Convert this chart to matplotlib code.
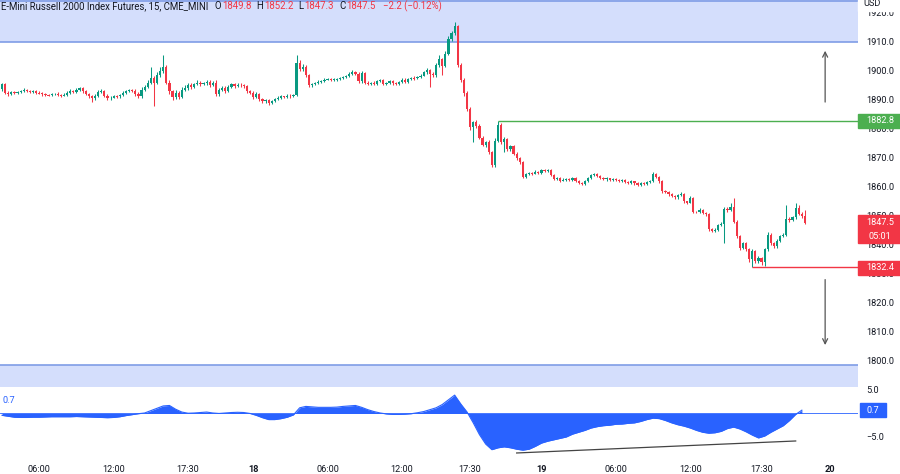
import numpy as np
import matplotlib
matplotlib.use("Agg")
import matplotlib.pyplot as plt
from matplotlib.patches import Rectangle
from matplotlib.transforms import blended_transform_factory

plt.rcParams['font.family'] = ['Roboto', 'DejaVu Sans']

# 15-minute bars, E-Mini Russell 2000 futures
first_open = 1893.8
closes = [
    1895.5, 1892.5, 1892.0, 1892.6, 1892.3, 1892.8, 1893.2, 1893.5, 1893.0, 1892.8,
    1893.1, 1892.5, 1892.3, 1892.0, 1891.8, 1891.6, 1891.9, 1892.2, 1891.8, 1891.5,
    1891.8, 1892.5, 1893.0, 1892.8, 1893.5, 1894.0, 1893.0, 1892.0, 1891.2, 1890.5,
    1891.5, 1892.8, 1893.2, 1891.5, 1890.5, 1890.8, 1891.4, 1891.2, 1891.6, 1892.5,
    1893.0, 1893.4, 1893.2, 1892.0, 1891.2, 1893.5, 1894.5, 1896.0, 1897.5, 1896.0,
    1898.5, 1900.0, 1901.5, 1896.0, 1893.0, 1891.0, 1892.5, 1891.0, 1893.5, 1894.0,
    1895.0, 1894.5, 1895.5, 1896.0, 1895.5, 1895.8, 1896.2, 1895.2, 1896.0, 1892.0,
    1893.5, 1894.2, 1893.0, 1894.5, 1895.5, 1894.8, 1895.3, 1895.0, 1894.7, 1893.0,
    1892.5, 1891.0, 1892.0, 1890.2, 1889.5, 1889.8, 1889.0, 1889.6, 1890.3, 1890.8,
    1891.2, 1891.0, 1891.5, 1891.3, 1891.8, 1902.8, 1900.5, 1901.5, 1898.5, 1895.0,
    1895.6, 1896.0, 1896.3, 1896.6, 1897.0, 1897.2, 1896.8, 1897.0, 1897.3, 1897.5,
    1897.8, 1898.3, 1899.0, 1899.6, 1899.0, 1896.5, 1899.2, 1896.0, 1895.5, 1896.0,
    1895.6, 1896.5, 1896.8, 1895.6, 1895.8, 1896.4, 1895.8, 1895.5, 1896.2, 1897.0,
    1896.3, 1897.3, 1897.6, 1897.4, 1898.0, 1898.4, 1899.5, 1900.2, 1899.0, 1898.5,
    1902.0, 1904.0, 1901.8, 1906.0, 1911.0, 1913.0, 1915.5, 1902.0, 1897.0, 1892.5,
    1887.0, 1880.5, 1882.5, 1881.0, 1877.0, 1874.5, 1875.5, 1872.0, 1867.5, 1876.0,
    1881.5, 1875.5, 1876.5, 1873.0, 1874.0, 1871.5, 1870.0, 1868.5, 1863.5, 1864.5,
    1864.8, 1864.6, 1865.2, 1864.8, 1865.8, 1865.5, 1865.8, 1864.0, 1862.8, 1863.2,
    1862.2, 1862.5, 1862.8, 1862.4, 1863.0, 1862.2, 1861.3, 1861.0, 1862.0, 1863.0,
    1864.0, 1864.5, 1863.6, 1863.2, 1862.6, 1862.9, 1862.5, 1862.8, 1862.3, 1862.0,
    1862.4, 1861.7, 1861.4, 1861.9, 1861.2, 1860.6, 1861.3, 1861.0, 1861.6, 1862.0,
    1864.5, 1863.5, 1862.0, 1858.5, 1858.3, 1857.5, 1856.8, 1856.4, 1857.2, 1857.6,
    1855.0, 1854.6, 1856.2, 1851.5, 1851.3, 1852.2, 1851.0, 1850.6, 1845.5, 1844.8,
    1845.3, 1846.8, 1847.2, 1852.5, 1852.0, 1853.2, 1848.0, 1843.0, 1839.0, 1840.5,
    1838.5, 1835.0, 1838.0, 1834.5, 1835.5, 1834.0, 1838.5, 1843.5, 1840.5, 1839.5,
    1841.5, 1843.0, 1843.5, 1849.0, 1848.5, 1849.5, 1852.8, 1850.8, 1849.8, 1847.5,
]
upper_wick = [
    0.3, 0.5, 0.4, 0.3, 0.5, 0.4, 0.3, 0.6, 0.4, 0.3,
    0.4, 0.3, 0.5, 0.4, 0.3, 0.4, 0.5, 0.3, 0.4, 0.3,
    0.5, 0.4, 0.6, 0.3, 0.7, 0.5, 0.4, 0.3, 0.5, 0.4,
    0.6, 0.5, 0.4, 0.3, 0.4, 0.5, 0.3, 0.4, 0.6, 0.5,
    0.4, 0.3, 0.5, 0.4, 0.6, 0.8, 0.5, 0.9, 3.9, 0.6,
    1.2, 1.5, 4.0, 0.5, 0.8, 0.5, 1.0, 0.6, 0.8, 1.0,
    0.7, 0.8, 0.5, 0.9, 0.6, 0.5, 0.7, 0.6, 0.5, 0.8,
    0.6, 0.5, 0.7, 0.6, 0.5, 0.4, 0.6, 0.5, 0.4, 0.6,
    0.5, 0.4, 0.6, 0.5, 0.3, 0.4, 0.5, 0.3, 0.4, 0.5,
    0.4, 0.3, 0.5, 0.4, 0.3, 2.7, 1.0, 0.8, 0.5, 0.6,
    0.4, 0.3, 0.4, 0.3, 0.5, 0.4, 0.3, 0.4, 0.3, 0.4,
    0.3, 0.4, 0.5, 0.6, 0.4, 0.5, 0.7, 0.5, 0.4, 0.3,
    0.4, 0.5, 0.3, 0.4, 0.3, 0.5, 0.4, 0.3, 0.4, 0.5,
    0.4, 0.3, 0.4, 0.5, 0.3, 0.6, 0.5, 0.7, 0.5, 0.6,
    0.8, 1.5, 0.6, 0.9, 1.2, 0.8, 1.5, 0.4, 0.8, 0.6,
    0.7, 0.5, 0.2, 0.5, 0.6, 0.7, 0.5, 0.6, 0.5, 0.8,
    1.3, 0.6, 0.7, 0.5, 0.4, 0.6, 0.5, 0.4, 0.5, 0.3,
    0.4, 0.3, 0.5, 0.4, 0.3, 0.4, 0.3, 0.5, 0.4, 0.3,
    0.3, 0.4, 0.3, 0.4, 0.3, 0.4, 0.3, 0.4, 0.3, 0.4,
    0.5, 0.4, 0.3, 0.4, 0.3, 0.4, 0.3, 0.4, 0.3, 0.4,
    0.3, 0.4, 0.3, 0.4, 0.3, 0.4, 0.3, 0.4, 0.3, 0.4,
    0.6, 0.4, 0.3, 0.5, 0.4, 0.3, 0.4, 0.3, 0.4, 0.5,
    0.4, 0.3, 0.5, 0.4, 0.3, 0.4, 0.3, 0.5, 0.4, 0.3,
    0.4, 0.5, 0.6, 0.4, 0.5, 1.3, 3.0, 0.5, 0.4, 0.6,
    0.5, 0.4, 0.5, 0.4, 0.6, 0.4, 0.5, 0.8, 0.6, 0.5,
    0.6, 0.5, 0.7, 4.8, 0.6, 0.5, 1.7, 1.0, 0.5, 2.4,
]
lower_wick = [
    0.6, 0.4, 0.5, 0.3, 0.4, 0.3, 0.5, 0.4, 0.3, 0.5,
    0.3, 0.4, 0.3, 0.5, 0.4, 0.3, 0.4, 0.3, 0.5, 0.4,
    0.3, 0.4, 0.3, 0.5, 0.4, 0.3, 0.5, 0.4, 0.6, 1.1,
    0.5, 0.4, 0.3, 0.6, 0.5, 0.4, 0.3, 0.5, 0.4, 0.3,
    0.4, 0.3, 0.5, 0.7, 0.6, 0.4, 0.5, 0.4, 0.4, 8.0,
    0.6, 0.5, 0.7, 0.5, 0.8, 1.0, 0.6, 0.8, 0.5, 0.6,
    0.5, 0.6, 0.4, 0.5, 0.6, 0.4, 0.5, 0.6, 0.4, 0.7,
    0.5, 0.6, 0.5, 0.4, 0.5, 0.6, 0.4, 0.5, 0.6, 0.5,
    0.6, 0.8, 0.5, 0.6, 0.7, 0.5, 0.6, 0.5, 0.4, 0.5,
    0.4, 0.5, 0.4, 0.5, 0.4, 0.3, 0.5, 0.4, 0.6, 0.7,
    0.4, 0.3, 0.4, 0.3, 0.4, 0.3, 0.4, 0.3, 0.4, 0.3,
    0.4, 0.3, 0.4, 0.3, 0.4, 0.6, 0.5, 0.6, 0.5, 0.4,
    0.5, 0.4, 0.3, 0.6, 0.4, 0.3, 0.5, 0.4, 0.3, 0.4,
    0.5, 0.4, 0.3, 0.4, 0.3, 0.4, 0.3, 0.4, 4.5, 0.6,
    0.5, 0.7, 3.3, 0.6, 0.5, 0.7, 0.6, 0.5, 0.8, 1.0,
    0.9, 0.8, 5.0, 0.7, 0.6, 0.5, 0.8, 0.6, 0.5, 0.6,
    0.5, 0.6, 3.5, 0.7, 0.6, 0.5, 0.6, 0.7, 0.6, 0.4,
    0.3, 0.4, 0.3, 0.4, 0.3, 0.4, 0.3, 0.4, 0.5, 0.3,
    0.4, 0.3, 0.4, 0.3, 0.4, 0.5, 0.4, 0.3, 0.4, 0.3,
    0.3, 0.4, 0.3, 0.4, 0.3, 0.4, 0.3, 0.4, 0.3, 0.4,
    0.4, 0.3, 0.4, 0.3, 0.5, 0.4, 0.3, 0.4, 0.3, 0.4,
    0.3, 0.4, 0.5, 0.6, 0.4, 0.5, 0.4, 0.5, 0.4, 0.3,
    0.5, 0.4, 0.3, 0.5, 0.4, 0.3, 0.4, 0.5, 0.6, 0.5,
    0.4, 0.5, 0.4, 6.5, 0.5, 0.4, 0.5, 0.6, 0.7, 0.5,
    0.6, 0.8, 2.6, 0.7, 0.6, 0.8, 1.4, 0.6, 0.7, 0.5,
    0.4, 0.5, 0.4, 0.6, 0.5, 0.4, 0.5, 0.6, 0.4, 0.2,
]

# oscillator, read at every second bar
osc_values = [
    -0.4, -0.6, -0.8, -0.85, -0.85, -0.8, -0.8, -0.75, -0.7, -0.7,
    -0.7, -0.7, -0.65, -0.7, -0.75, -0.8, -0.85, -0.9, -0.85, -0.7,
    -0.45, -0.25, -0.05, 0.1, 0.6, 1.1, 1.6, 1.7, 0.9, 0.3,
    0.05, 0.1, 0.2, 0.3, 0.1, 0.0, 0.1, 0.2, 0.25, 0.2,
    0.0, -0.4, -0.9, -1.3, -1.3, -1.1, -0.8, -0.3, 1.2, 1.5,
    1.4, 1.3, 1.3, 1.3, 1.35, 1.5, 1.6, 1.7, 1.3, 0.8,
    0.4, 0.1, -0.1, -0.2, -0.2, -0.15, -0.05, 0.15, 0.4, 0.8,
    1.2, 1.9, 2.9, 3.9, 2.0, 0.3, -2.0, -4.5, -6.5, -7.7,
    -7.3, -7.1, -7.3, -7.6, -7.8, -7.6, -7.0, -6.3, -5.9, -5.6,
    -5.3, -5.0, -4.4, -4.0, -3.6, -3.1, -2.8, -2.6, -2.5, -2.3,
    -2.25, -2.1, -2.0, -1.7, -1.3, -1.0, -1.1, -1.5, -2.0, -2.4,
    -2.7, -3.1, -3.6, -4.0, -4.2, -4.1, -3.8, -3.2, -2.9, -3.3,
    -3.9, -4.6, -5.2, -4.8, -4.0, -3.3, -2.6, -1.5, -0.2, 0.7,
]

tick_bars = [12, 36, 60, 81, 105, 129, 151, 174, 198, 222, 245, 267]
tick_labels = ["06:00", "12:00", "17:30", "18", "06:00", "12:00", "17:30",
               "19", "06:00", "12:00", "17:30", "20"]

resistance, res_start = 1882.8, 160
support, sup_start = 1832.4, 242
supply_zone = (1910.0, 1924.45)
demand_zone = (1780.0, 1798.6)
ohlc_text = ("1849.8", "1852.2", "1847.3", "1847.5", "\u22122.2 (\u22120.12%)")

UP, DOWN = "#089981", "#f23645"
BLUE = "#2962ff"
DARK = "#131722"

closes = np.array(closes)
opens = np.concatenate([[first_open], closes[:-1]])
highs = np.maximum(opens, closes) + np.array(upper_wick)
lows = np.minimum(opens, closes) - np.array(lower_wick)
bars = np.arange(len(closes))
cols = np.where(closes >= opens, UP, DOWN)
body = closes - opens
body = np.where(np.abs(body) < 0.3, np.where(body >= 0, 0.3, -0.3), body)

W, H = 900, 474
fig = plt.figure(figsize=(9, 4.74), dpi=100)


def px_axes(x0, y0, x1, y1):
    return fig.add_axes([x0 / W, 1 - y1 / H, (x1 - x0) / W, (y1 - y0) / H])


ax = px_axes(0, 0, 858, 387)
ax2 = px_axes(0, 389, 858, 455)
xmin, xmax = -0.65, 276.1

# price panel
ax.axhspan(*supply_zone, color="#d4defc", lw=0, zorder=0)
ax.axhspan(*demand_zone, color="#d4defc", lw=0, zorder=0)
ax.axhline(supply_zone[0], color="#7f9de6", lw=1.2, zorder=1)
ax.axhline(supply_zone[1] - 0.3, color="#7f9de6", lw=1.2, zorder=1)
ax.axhline(demand_zone[1], color="#7f9de6", lw=1.2, zorder=1)

ax.vlines(bars, lows, highs, colors=cols, lw=0.75, zorder=2)
ax.bar(bars, body, bottom=opens, width=0.7, color=cols, lw=0, zorder=3)

ax.hlines(resistance, res_start, xmax, color="#4caf50", lw=1.0, zorder=2)
ax.hlines(support, sup_start, xmax, color=DOWN, lw=1.0, zorder=2)

arrow_kw = dict(arrowstyle="->", color="#555555", lw=0.9, mutation_scale=9)
ax.annotate("", xy=(265.5, 1907.9), xytext=(265.5, 1888.3), arrowprops=arrow_kw)
ax.annotate("", xy=(265.5, 1804.5), xytext=(265.5, 1829.0), arrowprops=arrow_kw)

ax.set_xlim(xmin, xmax)
ax.set_ylim(1791.0, 1924.45)
ax.yaxis.tick_right()
ax.set_yticks(np.arange(1800, 1921, 10))
ax.set_yticklabels([f"{v:.1f}" for v in np.arange(1800, 1921, 10)])
ax.tick_params(axis="y", length=0, pad=6, labelsize=6.6, labelcolor=DARK)
ax.set_xticks([])
for s in ax.spines.values():
    s.set_visible(False)

tr = blended_transform_factory(ax.transAxes, ax.transData)
tag_w = 42 / 858


def price_tag(y0, y1, color, lines):
    ax.add_patch(Rectangle((1.0, y0), tag_w, y1 - y0, transform=tr, color=color,
                           clip_on=False, zorder=6))
    for yy, t in lines:
        ax.text(1.0 + tag_w / 2 + 0.001, yy, t, transform=tr, ha="center", va="center",
                color="white", fontsize=6.6, zorder=7, clip_on=False)


price_tag(resistance - 2.4, resistance + 2.4, "#4caf50", [(resistance, f"{resistance:.1f}")])
last = closes[-1]
price_tag(last - 6.8, last + 2.8, DOWN, [(last + 0.3, f"{last:.1f}"), (last - 4.6, "05:01")])
price_tag(support - 2.7, support + 2.1, DOWN, [(support - 0.3, f"{support:.1f}")])

# oscillator panel
osc_x = bars[::2]
ax2.fill_between(osc_x, osc_values, 0, color=BLUE, lw=0)
ax2.plot(osc_x, osc_values, color=BLUE, lw=0.8)
ax2.axhline(0, color=BLUE, lw=0.6)
ax2.plot([166, 256], [-8.4, -5.85], color="#444444", lw=0.9)
ax2.set_xlim(xmin, xmax)
ax2.set_ylim(-8.83, 5.2)
ax2.yaxis.tick_right()
ax2.set_yticks([5, -5])
ax2.set_yticklabels(["5.0", "\u22125.0"])
ax2.tick_params(axis="y", length=0, pad=6, labelsize=6.6, labelcolor=DARK)
ax2.set_xticks(tick_bars)
ax2.set_xticklabels(tick_labels)
ax2.tick_params(axis="x", length=0, pad=7, labelsize=6.6, labelcolor=DARK)
for lbl in ax2.get_xticklabels():
    if ":" not in lbl.get_text():
        lbl.set_fontweight("bold")
for s in ax2.spines.values():
    s.set_visible(False)

tr2 = blended_transform_factory(ax2.transAxes, ax2.transData)
cur = osc_values[-1]
ax2.add_patch(Rectangle((1.002, cur - 1.5), 26 / 858, 3.0, transform=tr2, color=BLUE,
                        clip_on=False, zorder=6))
ax2.text(1.002 + 13 / 858, cur, f"{cur:.1f}", transform=tr2, ha="center", va="center",
         color="white", fontsize=6.6, zorder=7, clip_on=False)
ax2.text(0.003, 0.83, f"{cur:.1f}", transform=ax2.transAxes, color=BLUE, fontsize=6.6,
         ha="left", va="center")

# header
fig.patches.append(Rectangle((858 / W, 1 - 11 / H), 42 / W, 11 / H, transform=fig.transFigure,
                             color="white", zorder=1))
fig.text(863 / W, 1 - 4 / H, "USD", fontsize=6.6, color=DARK, va="center", ha="left")

renderer = fig.canvas.get_renderer()
pieces = [("E-Mini Russell 2000 Index Futures, 15, CME_MINI", DARK, 6),
          ("O", DARK, 1), (ohlc_text[0], DOWN, 5),
          ("H", DARK, 1), (ohlc_text[1], DOWN, 5),
          ("L", DARK, 1), (ohlc_text[2], DOWN, 5),
          ("C", DARK, 1), (ohlc_text[3], DOWN, 7),
          (ohlc_text[4], DOWN, 0)]
xpos = 1.0
for txt, col, gap in pieces:
    t = fig.text(xpos / W, 1 - 6 / H, txt, fontsize=6.9, color=col, va="center", ha="left")
    xpos = t.get_window_extent(renderer).x1 + gap

fig.savefig("out.png", dpi=100)
